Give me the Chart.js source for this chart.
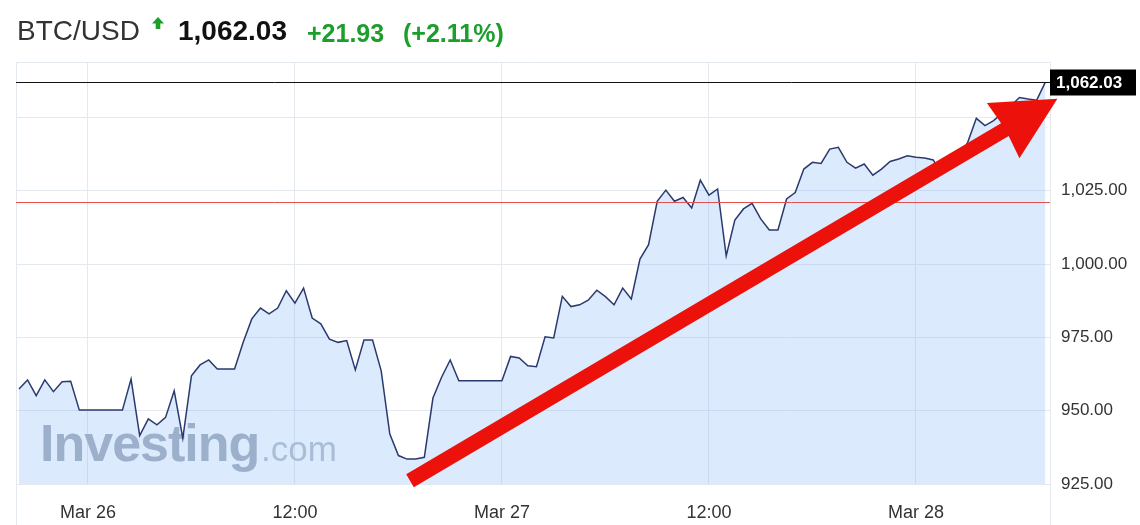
<!DOCTYPE html>
<html>
<head>
<meta charset="utf-8">
<script src="https://cdn.jsdelivr.net/npm/chart.js@4.4.1/dist/chart.umd.min.js"></script>
<style>
  html, body { margin: 0; padding: 0; background: #fff; }
  #wrap { position: relative; width: 1140px; height: 525px; font-family: Arial, 'Liberation Sans', sans-serif; }
  #chart { position: absolute; left: 0; top: 0; }
  .hdr { position: absolute; top: 15px; font-size: 28px; line-height: 32px; white-space: nowrap; }
  .sym { left: 17px; color: #333; }
  .last { left: 178px; color: #111; font-weight: bold; }
  .chg { color: #1b9e2c; font-weight: bold; font-size: 25px; top: 17px; }
  #upArrow { position: absolute; left: 152px; top: 17px; }
</style>
</head>
<body>
<div id="wrap">
  <canvas id="chart" width="1140" height="525"></canvas>
  <span class="hdr sym">BTC/USD</span>
  <svg id="upArrow" width="12" height="13" viewBox="0 0 12 13"><polygon points="6,0 12,6.5 8.3,6.5 8.3,12 3.7,12 3.7,6.5 0,6.5" fill="#1b9e2c"/></svg>
  <span class="hdr last">1,062.03</span>
  <span class="hdr chg" style="left:307px">+21.93</span>
  <span class="hdr chg" style="left:403px">(+2.11%)</span>
</div>
<script>
// BTC/USD half-hourly closes, starting Mar 25 20:00
const START_HOUR = -4;    // hours relative to Mar 26 00:00
const STEP_HOURS = 0.5;
const prices = [
  957.4, 960.5, 955.1, 960.5, 956.5, 959.9, 960.0, 950.2, 950.2, 950.2,
  950.2, 950.2, 950.2, 960.8, 941.5, 947.2, 945.2, 947.7, 956.8, 940.6,
  961.9, 965.6, 967.3, 964.2, 964.2, 964.2, 973.3, 981.3, 985.0, 983.0,
  985.0, 990.9, 986.7, 991.8, 981.6, 979.6, 974.4, 973.3, 973.9, 963.9,
  974.1, 974.1, 963.6, 942.0, 934.7, 933.5, 933.5, 934.1, 954.3, 961.4,
  967.3, 960.2, 960.2, 960.2, 960.2, 960.2, 960.2, 968.5, 968.0, 965.3,
  965.0, 975.2, 974.8, 989.0, 985.5, 986.1, 987.7, 991.1, 988.9, 986.1,
  991.8, 988.1, 1001.7, 1006.6, 1021.4, 1025.2, 1021.4, 1022.7, 1019.1, 1028.6,
  1023.5, 1025.6, 1002.8, 1015.0, 1018.8, 1020.7, 1015.4, 1011.6, 1011.6, 1022.2,
  1024.4, 1032.4, 1034.7, 1034.3, 1039.2, 1039.8, 1034.7, 1032.7, 1034.1, 1030.3,
  1032.4, 1035.0, 1035.8, 1036.9, 1036.4, 1036.2, 1035.5, 1030.7, 1033.0, 1036.5,
  1041.5, 1049.7, 1047.2, 1048.9, 1051.5, 1054.0, 1056.8, 1056.3, 1055.9, 1062.03
];
const hours = prices.map((_, i) => START_HOUR + i * STEP_HOURS);

const xTickHours = [0, 12, 24, 36, 48];
const xTickLabels = ['Mar 26', '12:00', 'Mar 27', '12:00', 'Mar 28'];
const yTickValues = [925, 950, 975, 1000, 1025];

const lastPrice = 1062.03;
const refLevel = 1021.3;

// hand-drawn red arrow, in data units
const arrowStart = { x: 18.67, y: 926.1 };
const arrowTip = { x: 56.2, y: 1056.4 };

const GRID = '#e4e8ef';
const FONT = "Arial, 'Liberation Sans', sans-serif";

function fmt(v) {
  return v.toLocaleString('en-US', { minimumFractionDigits: 2, maximumFractionDigits: 2 });
}

const overlayPlugin = {
  id: 'overlay',
  beforeDatasetsDraw(chart) {
    const ctx = chart.ctx;
    ctx.save();
    ctx.textBaseline = 'alphabetic';
    ctx.font = 'bold 52px ' + FONT;
    ctx.letterSpacing = '-1px';
    ctx.fillStyle = '#a5adba';
    ctx.fillText('Investing', 40, 461);
    ctx.letterSpacing = '0px';
    ctx.font = '35px ' + FONT;
    ctx.fillStyle = '#b8bfca';
    ctx.fillText('.com', 261, 461);
    ctx.restore();
  },
  afterDatasetsDraw(chart) {
    const ctx = chart.ctx;
    const xs = chart.scales.x, ys = chart.scales.y;
    const area = chart.chartArea;
    ctx.save();

    // frame
    ctx.strokeStyle = GRID;
    ctx.lineWidth = 1;
    ctx.beginPath();
    ctx.moveTo(area.left + 0.5, chart.height);
    ctx.lineTo(area.left + 0.5, area.top + 0.5);
    ctx.lineTo(area.right + 0.5, area.top + 0.5);
    ctx.lineTo(area.right + 0.5, chart.height);
    ctx.stroke();

    // reference levels
    const yRef = Math.round(ys.getPixelForValue(refLevel)) + 0.5;
    ctx.strokeStyle = '#e2514f';
    ctx.beginPath();
    ctx.moveTo(area.left, yRef);
    ctx.lineTo(area.right, yRef);
    ctx.stroke();

    const yLast = Math.round(ys.getPixelForValue(lastPrice)) + 0.5;
    ctx.strokeStyle = '#111';
    ctx.beginPath();
    ctx.moveTo(area.left, yLast);
    ctx.lineTo(area.right, yLast);
    ctx.stroke();

    // red arrow
    const sx = xs.getPixelForValue(arrowStart.x), sy = ys.getPixelForValue(arrowStart.y);
    const tx = xs.getPixelForValue(arrowTip.x), ty = ys.getPixelForValue(arrowTip.y);
    const len = Math.hypot(tx - sx, ty - sy);
    const ux = (tx - sx) / len, uy = (ty - sy) / len;
    const nx = -uy, ny = ux;
    const headLen = 63, headHalf = 32, shaftHalf = 7.5;
    const bx = tx - ux * headLen, by = ty - uy * headLen;
    ctx.fillStyle = '#ec110a';
    ctx.beginPath();
    ctx.moveTo(sx + nx * shaftHalf, sy + ny * shaftHalf);
    ctx.lineTo(bx + ux * 2 + nx * shaftHalf, by + uy * 2 + ny * shaftHalf);
    ctx.lineTo(bx + nx * headHalf, by + ny * headHalf);
    ctx.lineTo(tx, ty);
    ctx.lineTo(bx - nx * headHalf, by - ny * headHalf);
    ctx.lineTo(bx + ux * 2 - nx * shaftHalf, by + uy * 2 - ny * shaftHalf);
    ctx.lineTo(sx - nx * shaftHalf, sy - ny * shaftHalf);
    ctx.closePath();
    ctx.fill();

    // last price tag
    ctx.fillStyle = '#000';
    ctx.fillRect(area.right, yLast - 13, 86, 26);
    ctx.fillStyle = '#fff';
    ctx.font = 'bold 17px ' + FONT;
    ctx.textBaseline = 'middle';
    ctx.fillText(fmt(lastPrice), area.right + 6, yLast + 1);
    ctx.restore();
  }
};

new Chart(document.getElementById('chart'), {
  type: 'line',
  data: {
    labels: hours,
    datasets: [{
      data: prices,
      borderColor: '#2b3a6e',
      borderWidth: 1.5,
      backgroundColor: 'rgba(135, 185, 245, 0.3)',
      fill: 'start',
      tension: 0,
      pointRadius: 0
    }]
  },
  options: {
    responsive: false,
    animation: false,
    layout: { padding: { left: 16, top: 62, right: 0, bottom: 0 } },
    plugins: {
      legend: { display: false },
      tooltip: { enabled: false }
    },
    scales: {
      x: {
        type: 'linear',
        min: -4.17,
        max: 55.77,
        afterBuildTicks: axis => { axis.ticks = xTickHours.map(v => ({ value: v })); },
        afterFit: axis => { axis.height = 41; },
        grid: { color: GRID, drawTicks: false },
        border: { display: false },
        ticks: {
          color: '#333',
          font: { family: FONT, size: 18 },
          padding: 18,
          maxRotation: 0,
          autoSkip: false,
          callback: v => {
            const i = xTickHours.indexOf(v);
            return i >= 0 ? xTickLabels[i] : '';
          }
        }
      },
      y: {
        position: 'right',
        min: 925,
        max: 1068.9,
        afterBuildTicks: axis => {
          axis.ticks = [925, 950, 975, 1000, 1025, 1050].map(v => ({ value: v }));
        },
        afterFit: axis => { axis.width = 90; },
        grid: { color: GRID, drawTicks: false },
        border: { display: false },
        ticks: {
          color: '#333',
          font: { family: FONT, size: 17 },
          padding: 11,
          callback: v => yTickValues.includes(v) ? fmt(v) : ''
        }
      }
    }
  },
  plugins: [overlayPlugin]
});
</script>
</body>
</html>
